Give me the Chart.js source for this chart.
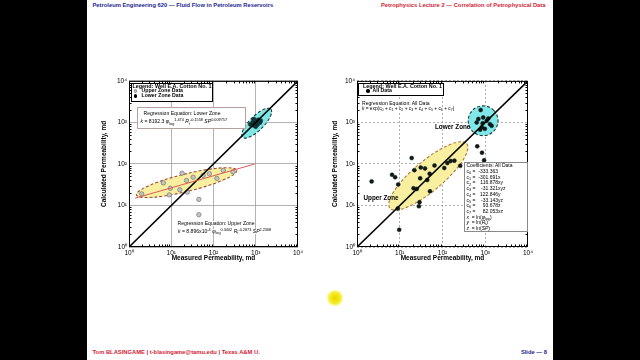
<!DOCTYPE html>
<html><head><meta charset="utf-8">
<script src="https://cdn.jsdelivr.net/npm/chart.js@4.4.1/dist/chart.umd.min.js"></script>
<style>
html,body{margin:0;padding:0;width:640px;height:360px;background:#000;overflow:hidden;font-family:"Liberation Sans",Arial,sans-serif;}
#slide{position:absolute;left:87px;top:0;width:466px;height:360px;background:#fff;}
.t{position:absolute;white-space:nowrap;line-height:1;color:#000;}
.b{font-weight:bold;}
.box{position:absolute;background:#fff;box-sizing:border-box;}
canvas{position:absolute;}
sub,sup{font-size:75%;line-height:0;position:relative;vertical-align:baseline;}
sup{top:-0.55em;} sub{top:0.3em;}
.dot{position:absolute;border-radius:50%;box-sizing:border-box;}
</style></head><body>
<div id="slide"></div>
<canvas id="cLeft" width="205" height="187" style="left:100px;top:75px;"></canvas>
<canvas id="cRight" width="204" height="187" style="left:331px;top:75px;"></canvas>
<div id="overlay"></div>
<script>
// ---------- data ----------
const tickLabels = ['10\u2070','10\u00B9','10\u00B2','10\u00B3','10\u2074'];
const leftUpperMeasured   = [2.0, 6.5, 9, 9.5, 16, 18, 23, 24, 33, 45, 45, 57, 80, 120, 170, 290];
const leftUpperCalculated = [19, 35, 18, 26, 24, 60, 40, 21, 48, 14, 6, 53, 58, 45, 70, 65];
const leftLowerMeasured   = [750, 850, 900, 950, 1000, 1050, 1100, 1150, 1250, 1300, 1000, 900];
const leftLowerCalculated = [900, 1000, 850, 1100, 950, 1050, 900, 1150, 1000, 1100, 800, 1200];
const leftRegMeasured   = [1.4, 950];
const leftRegCalculated = [15, 100];
const diagMeasured   = [1, 10000];
const diagCalculated = [1, 10000];
const rightMeasured   = [2.2, 6.6, 7.8, 9.2, 9.0, 9.7, 19, 22, 21, 25, 29, 28, 30, 31, 39, 44, 51, 50, 65, 110, 130, 155, 190, 260,
                         780, 690, 895, 630, 870, 1080, 830, 980, 1290, 1410, 760, 1180, 650, 840, 940];
const rightCalculated = [38, 55, 48, 32, 8.5, 2.6, 139, 71, 26, 25, 12, 9.6, 45, 82, 78, 41, 22, 58, 92, 80, 105, 118, 120, 90,
                         1990, 1210, 1320, 1000, 950, 1100, 760, 700, 910, 830, 670, 1250, 265, 187, 122];
// zone ellipses: [from point], [to point], half-width in decades
const leftUpperZone  = [[1.5, 18], [355, 70], 0.21];
const leftLowerZone  = [[490, 440], [2275, 2090], 0.17];
const rightUpperZone = [[5.9, 8.6], [368, 307], 0.36];
const rightLowerZone = [[501, 617], [1585, 1950], 0.358];
const coefNames  = ['c<sub>0</sub>','c<sub>1</sub>','c<sub>2</sub>','c<sub>3</sub>','c<sub>4</sub>','c<sub>5</sub>','c<sub>6</sub>','c<sub>7</sub>'];
const coefValues = ['-333.363','-301.691','116.878','-31.321','122.846','-33.143','93.678','82.053'];
const coefTerms  = ['','x','xy','xyz','y','yz','z','xz'];

// ---------- helpers ----------
const FONT = '"Liberation Sans", Arial, sans-serif';
Chart.defaults.font.family = FONT;
const pts = (xs, ys) => xs.map((v, i) => ({x: v, y: ys[i]}));
const isMajor = v => Math.abs(Math.log10(v) - Math.round(Math.log10(v))) < 1e-9;
const tickCb = v => isMajor(v) ? tickLabels[Math.round(Math.log10(v))] : '';

const decor = {
  id: 'decor',
  beforeDatasetsDraw(chart, args, opts) {
    const {ctx, chartArea: a, scales: {x, y}} = chart;
    ctx.save();
    ctx.beginPath(); ctx.rect(a.left, a.top, a.right - a.left, a.bottom - a.top); ctx.clip();
    (opts.ellipses || []).forEach(e => {
      const [from, to, half] = e.spec;
      const x1 = x.getPixelForValue(from[0]), y1 = y.getPixelForValue(from[1]);
      const x2 = x.getPixelForValue(to[0]),   y2 = y.getPixelForValue(to[1]);
      const cx = (x1 + x2) / 2, cy = (y1 + y2) / 2;
      const ra = Math.hypot(x2 - x1, y2 - y1) / 2;
      const rb = Math.abs(y.getPixelForValue(1) - y.getPixelForValue(Math.pow(10, half)));
      ctx.beginPath();
      ctx.ellipse(cx, cy, ra, rb, Math.atan2(y2 - y1, x2 - x1), 0, Math.PI * 2);
      ctx.fillStyle = e.fill; ctx.fill();
      ctx.setLineDash([3, 2]); ctx.lineWidth = 1.1; ctx.strokeStyle = e.stroke; ctx.stroke();
    });
    ctx.restore();
  },
  afterDraw(chart) {
    const {ctx, chartArea: a, scales: {x, y}} = chart;
    ctx.save();
    ctx.strokeStyle = '#000'; ctx.lineWidth = 1; ctx.setLineDash([]);
    ctx.strokeRect(a.left + 0.5, a.top + 0.5, a.right - a.left - 1, a.bottom - a.top - 1);
    ctx.beginPath();
    for (let d = 0; d < 4; d++) {
      for (let m = 2; m <= 9; m++) {
        const v = m * Math.pow(10, d);
        const px = Math.round(x.getPixelForValue(v)) + 0.5;
        const py = Math.round(y.getPixelForValue(v)) + 0.5;
        const L = 2.5;
        ctx.moveTo(px, a.bottom); ctx.lineTo(px, a.bottom - L);
        ctx.moveTo(px, a.top); ctx.lineTo(px, a.top + L);
        ctx.moveTo(a.left, py); ctx.lineTo(a.left + L, py);
        ctx.moveTo(a.right, py); ctx.lineTo(a.right - L, py);
      }
    }
    ctx.stroke();
    ctx.restore();
  }
};

function makeChart(id, datasets, ellipses, yWidth, dashed) {
  const gridColor = c => isMajor(c.tick.value) ? (dashed ? '#9a9a9a' : '#a0a0a0') : 'rgba(0,0,0,0)';
  const axis = (title, isX) => ({
    type: 'logarithmic', min: 1, max: 10000,
    position: isX ? 'bottom' : 'left',
    afterFit: s => { if (isX) s.height = 15; else s.width = yWidth; },
    grid: {color: gridColor, lineWidth: 0.8, drawTicks: false},
    border: {display: false, dash: dashed ? [2, 2] : []},
    ticks: {callback: tickCb, autoSkip: false, maxRotation: 0, padding: 2,
            color: '#000', font: {size: 6.5}},
    title: {display: true, text: title, color: '#000', padding: 0, font: {size: 6.5, weight: 'bold'}}
  });
  return new Chart(document.getElementById(id), {
    type: 'scatter',
    data: {datasets},
    options: {
      responsive: false, animation: false,
      layout: {padding: {top: 5, right: 7, left: 0, bottom: 0}},
      plugins: {legend: {display: false}, tooltip: {enabled: false}, decor: {ellipses}},
      scales: {
        x: axis('Measured Permeability, md', true),
        y: axis('Calculated Permeability, md', false)
      }
    },
    plugins: [decor]
  });
}

const lineDs = (xs, ys, color, w) => ({data: pts(xs, ys), showLine: true, borderColor: color,
  borderWidth: w, pointRadius: 0, fill: false});

makeChart('cLeft', [
  lineDs(leftRegMeasured, leftRegCalculated, '#e05a5a', 1),
  lineDs(diagMeasured, diagCalculated, '#000', 1.6),
  {data: pts(leftUpperMeasured, leftUpperCalculated), pointRadius: 2.2, backgroundColor: '#c4c4c4',
   borderColor: '#808080', borderWidth: 0.8},
  {data: pts(leftLowerMeasured, leftLowerCalculated), pointRadius: 2.2, backgroundColor: '#0f3434',
   borderColor: '#0f3434', borderWidth: 0.5}
], [
  {spec: leftUpperZone, fill: '#f8f0a0', stroke: '#a04a32'},
  {spec: leftLowerZone, fill: '#7fe6e6', stroke: '#1c3c3c'}
], 29, false);

makeChart('cRight', [
  lineDs(diagMeasured, diagCalculated, '#000', 1.6),
  {data: pts(rightMeasured, rightCalculated), pointRadius: 2, backgroundColor: '#101818',
   borderColor: '#101818', borderWidth: 0.5}
], [
  {spec: rightUpperZone, fill: '#f8f0a0', stroke: '#b07a3a'},
  {spec: rightLowerZone, fill: '#80e8e8', stroke: '#1c3c3c'}
], 26, true);

// ---------- text overlays ----------
const ov = document.getElementById('overlay');
function txt(html, left, cy, size, cls, color, extra) {
  const d = document.createElement('div');
  d.className = 't ' + (cls || '');
  d.innerHTML = html;
  d.style.left = left + 'px';
  d.style.top = (cy - size / 2) + 'px';
  d.style.fontSize = size + 'px';
  if (color) d.style.color = color;
  if (extra) Object.assign(d.style, extra);
  ov.appendChild(d);
  return d;
}
function rtxt(html, right, cy, size, cls, color) {
  const d = txt(html, 0, cy, size, cls, color);
  d.style.left = ''; d.style.right = (640 - right) + 'px';
  return d;
}
function box(l, t, w, h, border) {
  const d = document.createElement('div');
  d.className = 'box';
  Object.assign(d.style, {left: l + 'px', top: t + 'px', width: w + 'px', height: h + 'px', border});
  ov.appendChild(d);
}
function dot(cx, cy, r, bg, border) {
  const d = document.createElement('div');
  d.className = 'dot';
  Object.assign(d.style, {left: (cx - r) + 'px', top: (cy - r) + 'px', width: 2 * r + 'px', height: 2 * r + 'px',
    background: bg, border: border || 'none'});
  ov.appendChild(d);
}

// header / footer
txt('Petroleum Engineering 620 \u2014 Fluid Flow in Petroleum Reservoirs', 92.5, 6, 5.8, 'b', '#25258f');
rtxt('Petrophysics Lecture 2 \u2014 Correlation of Petrophysical Data', 545.5, 6, 5.8, 'b', '#cf2536');
txt('Tom BLASINGAME | t-blasingame@tamu.edu | Texas A&amp;M U.', 92.5, 352.5, 5.8, 'b', '#cf2536');
rtxt('Slide \u2014 8', 547, 352.5, 5.8, 'b', '#25258f');

// left chart annotations
box(131, 83, 82, 19, '1px solid #000');
txt('Legend: Well E.A. Cotton No. 1', 132.5, 86.5, 5.4, 'b');
dot(135.5, 91, 1.7, '#c4c4c4', '0.8px solid #808080');
txt('Upper Zone Data', 141.5, 91, 5.2, 'b');
dot(135.5, 96, 1.7, '#000');
txt('Lower Zone Data', 141.5, 96, 5.2, 'b');
box(137, 107, 109, 21.5, '1px solid #b8a0a0');
txt('Regression Equation: Lower Zone', 143.5, 113.3, 5.1);
txt('<i>k</i> = 8192.3 <i>\u03C6</i><sub>log</sub><sup>1.474</sup> <i>R</i><sub>t</sub><sup>-0.1558</sup> <i>SP</i><sup>0.009757</sup>', 140.5, 122, 5.1);
txt('Regression Equation: Upper Zone', 177.5, 223.3, 5.1, '', null, {background: '#fff'});
txt('<i>k</i> = 8.896x10<sup>-4</sup> <i>\u03C6</i><sub>log</sub><sup>0.3402</sup> <i>R</i><sub>t</sub><sup>-0.2873</sup> <i>SP</i><sup>2.2368</sup>', 178, 231.5, 5.1, '', null, {background: '#fff'});

// right chart annotations
box(358, 83, 86, 12.5, '1px solid #000');
txt('Legend: Well E.A. Cotton No. 1', 363, 86.5, 5.4, 'b');
dot(368, 91, 1.7, '#000');
txt('All Data', 372.5, 91, 5.2, 'b');
txt('Regression Equation: All Data', 362, 103.3, 5.1, '', null, {background: '#fff'});
txt('<i>k</i> = exp(c<sub>0</sub> + c<sub>1</sub> + c<sub>2</sub> + c<sub>3</sub> + c<sub>4</sub> + c<sub>5</sub> + c<sub>6</sub> + c<sub>7</sub>)', 362, 109.5, 4.8, '', null, {background: '#fff'});
txt('Lower Zone', 435, 127.5, 6.3, 'b');
txt('Upper Zone', 363.5, 197.7, 6.3, 'b');
box(464, 162, 64, 70, '1px solid #8a8a8a');
txt('Coefficients: All Data', 466.5, 165.5, 5);
const rowStep = 5.7;
coefNames.forEach((n, i) => {
  const cy = 171.5 + i * rowStep;
  txt(n + ' =', 466.5, cy, 5);
  rtxt(coefValues[i], 498, cy, 5);
  txt(coefTerms[i], 498, cy, 5);
});
txt('<i>x</i>&nbsp; = ln(<i>\u03C6</i><sub>log</sub>)', 466.5, 171.5 + 8 * rowStep, 5);
txt('<i>y</i>&nbsp; = ln(<i>R</i><sub>t</sub>)', 466.5, 171.5 + 9 * rowStep, 5);
txt('<i>z</i>&nbsp; = ln(<i>SP</i>)', 466.5, 171.5 + 10 * rowStep, 5);

// presenter pointer
dot(335, 298, 8, 'radial-gradient(circle, #e8d800 0%, #f6ea20 45%, rgba(255,250,140,0.55) 75%, rgba(255,255,200,0) 100%)');
</script>
</body></html>
